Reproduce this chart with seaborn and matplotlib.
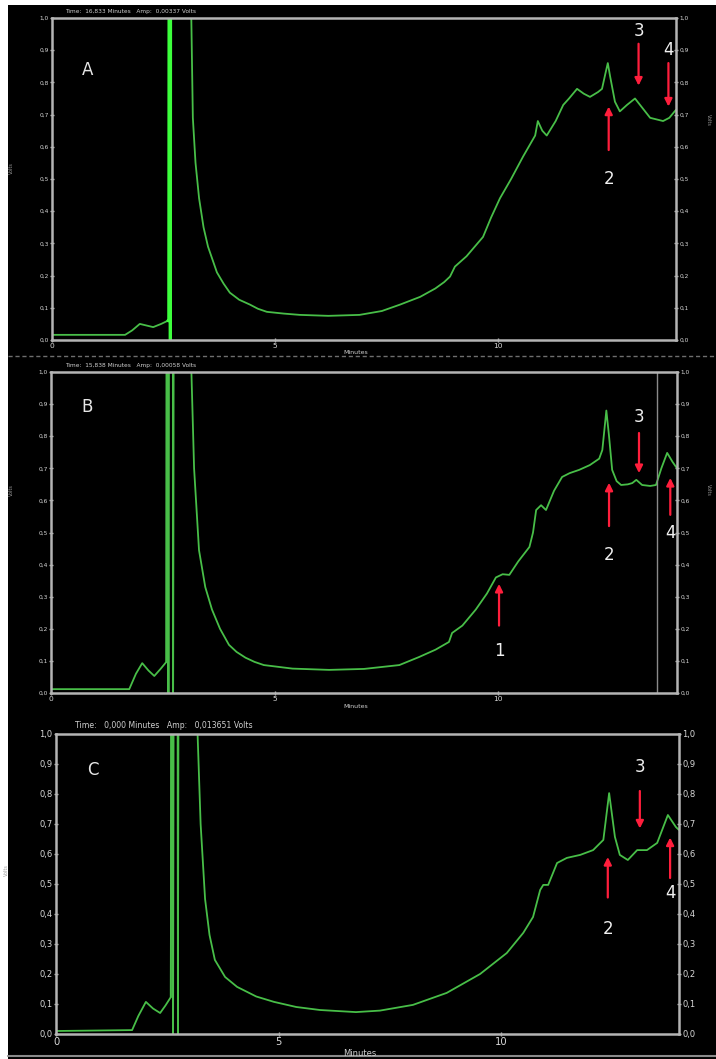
import matplotlib
matplotlib.use("Agg")
import matplotlib.pyplot as plt
import seaborn as sns
import pandas as pd
from matplotlib.patches import Rectangle
from matplotlib.lines import Line2D

# ---------------- data ----------------
time_A = [0, 1.64, 1.8, 1.97, 2.12, 2.27, 2.45, 2.6, 2.62, 2.635, 2.655, 2.67, 3.08, 3.12, 3.16, 3.22, 3.3,
          3.4, 3.5, 3.6, 3.7, 3.85, 3.99, 4.2, 4.44, 4.62, 4.82, 5.2, 5.56, 6.2, 6.9, 7.4, 7.81, 8.26, 8.6,
          8.8, 8.93, 9.04, 9.3, 9.67, 9.85, 10.05, 10.3, 10.57, 10.84, 10.9, 11.0, 11.1, 11.3, 11.47, 11.6,
          11.78, 11.93, 12.07, 12.25, 12.34, 12.42, 12.47, 12.52, 12.63, 12.74, 12.9, 13.08, 13.25, 13.42,
          13.71, 13.85, 14.0]
volts_A = [0.016, 0.016, 0.03, 0.05, 0.045, 0.04, 0.05, 0.06, 0.06, 3.0, -0.2, 3.0, 3.0, 1.05, 0.69, 0.55,
           0.44, 0.35, 0.29, 0.25, 0.21, 0.175, 0.147, 0.125, 0.11, 0.097, 0.0875, 0.082, 0.078, 0.075, 0.078,
           0.09, 0.11, 0.134, 0.16, 0.18, 0.197, 0.228, 0.26, 0.32, 0.38, 0.44, 0.5, 0.57, 0.635, 0.68, 0.65,
           0.635, 0.68, 0.73, 0.75, 0.78, 0.765, 0.755, 0.77, 0.78, 0.83, 0.86, 0.82, 0.74, 0.71, 0.73, 0.75,
           0.72, 0.69, 0.68, 0.69, 0.715]

time_B = [0, 1.75, 1.9, 2.04, 2.18, 2.31, 2.45, 2.58, 2.6, 2.625, 2.645, 2.72, 2.73, 2.75, 3.1, 3.13, 3.2,
          3.31, 3.45, 3.6, 3.78, 3.98, 4.15, 4.35, 4.55, 4.76, 5.4, 6.22, 7.0, 7.79, 8.23, 8.6, 8.9, 8.97, 9.2,
          9.5, 9.75, 9.95, 10.1, 10.25, 10.45, 10.7, 10.78, 10.85, 10.96, 11.07, 11.25, 11.43, 11.6, 11.81,
          12.05, 12.26, 12.33, 12.42, 12.48, 12.55, 12.65, 12.75, 12.9, 13.0, 13.09, 13.22, 13.4, 13.53, 13.65,
          13.78, 13.9, 14.0]
volts_B = [0.012, 0.012, 0.06, 0.093, 0.07, 0.053, 0.075, 0.097, 3.0, -0.2, 3.0, 3.0, -0.2, 3.0, 3.0, 1.05, 0.7,
           0.445, 0.33, 0.26, 0.2, 0.15, 0.128, 0.11, 0.097, 0.087, 0.076, 0.072, 0.075, 0.087, 0.112, 0.135,
           0.159, 0.187, 0.21, 0.26, 0.31, 0.36, 0.37, 0.368, 0.41, 0.455, 0.5, 0.57, 0.585, 0.57, 0.63, 0.673,
           0.685, 0.695, 0.71, 0.73, 0.757, 0.88, 0.8, 0.695, 0.66, 0.648, 0.65, 0.654, 0.664, 0.648, 0.645,
           0.648, 0.7, 0.748, 0.72, 0.7]

time_C = [0, 1.71, 1.85, 2.02, 2.18, 2.34, 2.46, 2.58, 2.61, 2.63, 2.65, 2.73, 2.74, 2.76, 3.14, 3.17, 3.25,
          3.35, 3.45, 3.57, 3.8, 4.07, 4.5, 4.9, 5.4, 5.93, 6.74, 7.28, 8.02, 8.78, 9.53, 10.13, 10.5, 10.72,
          10.88, 10.95, 11.06, 11.26, 11.48, 11.78, 12.07, 12.3, 12.43, 12.56, 12.67, 12.85, 13.06, 13.28,
          13.51, 13.75, 13.93, 14.0]
volts_C = [0.01, 0.013, 0.06, 0.107, 0.085, 0.07, 0.095, 0.123, 3.0, -0.2, 3.0, 3.0, -0.2, 3.0, 3.0, 1.05, 0.7,
           0.45, 0.33, 0.247, 0.19, 0.157, 0.125, 0.107, 0.09, 0.08, 0.073, 0.078, 0.097, 0.137, 0.2, 0.27,
           0.337, 0.39, 0.48, 0.497, 0.497, 0.57, 0.587, 0.597, 0.613, 0.647, 0.803, 0.657, 0.597, 0.58, 0.613,
           0.613, 0.637, 0.73, 0.69, 0.68]

x_ticks = [0, 5, 10]
x_tick_labels = ["0", "5", "10"]
y_ticks = [0.0, 0.1, 0.2, 0.3, 0.4, 0.5, 0.6, 0.7, 0.8, 0.9, 1.0]
y_tick_labels = ["0,0", "0,1", "0,2", "0,3", "0,4", "0,5", "0,6", "0,7", "0,8", "0,9", "1,0"]

panel_letters = ["A", "B", "C"]
headers = ["Time:  16,833 Minutes   Amp:  0,00337 Volts",
           "Time:  15,838 Minutes   Amp:  0,00058 Volts",
           "Time:   0,000 Minutes   Amp:   0,013651 Volts"]

# peak arrows: (label, x, y_tail, y_tip, y_label)
arrows_A = [("3", 13.16, 0.92, 0.79, 0.96), ("4", 13.83, 0.86, 0.725, 0.90), ("2", 12.49, 0.59, 0.725, 0.50)]
arrows_B = [("1", 10.02, 0.21, 0.34, 0.13), ("2", 12.48, 0.52, 0.655, 0.43),
            ("3", 13.15, 0.81, 0.685, 0.86), ("4", 13.85, 0.555, 0.67, 0.50)]
arrows_C = [("3", 13.12, 0.81, 0.685, 0.89), ("2", 12.40, 0.455, 0.59, 0.35), ("4", 13.80, 0.52, 0.655, 0.47)]

cursor_B = 13.56

# ---------------- style ----------------
sns.set_theme(style="dark")
plt.rcParams['font.family'] = ['DejaVu Sans']

W, H = 716, 1059
fig = plt.figure(figsize=(W / 100, H / 100), dpi=100, facecolor="white")
fig.patches.append(Rectangle((8 / W, 0), 1, 1 - 5 / H, transform=fig.transFigure,
                             facecolor="black", edgecolor="none", zorder=-10))

AXCOL = "#b4b4b4"
GREEN = "#48be48"
BRIGHT = "#3cff3c"
RED = "#ff1e3c"


def fx(px):
    return px / W


def fy(py):
    return 1 - py / H


boxes = [(52, 676, 18, 340), (51, 677, 372, 693), (56, 679, 734, 1034)]
datas = [(time_A, volts_A, arrows_A), (time_B, volts_B, arrows_B), (time_C, volts_C, arrows_C)]
tick_fs = [4.2, 4.2, 6.0]
letter_pos = [(0.8, 0.84), (0.8, 0.89), (0.83, 0.88)]

for i, ((l, r, t, b), (tt, vv, arr)) in enumerate(zip(boxes, datas)):
    ax = fig.add_axes([fx(l), fy(b), fx(r - l), (b - t) / H])
    ax.set_facecolor("black")
    df = pd.DataFrame({"Minutes": tt, "Volts": vv})
    sns.lineplot(data=df, x="Minutes", y="Volts", ax=ax, color=GREEN, lw=1.3,
                 sort=False, estimator=None)
    spike = df[(df["Minutes"] > 2.5) & (df["Minutes"] < 2.8)]
    sns.lineplot(data=spike, x="Minutes", y="Volts", ax=ax, color=BRIGHT if i == 0 else GREEN,
                 lw=2.2 if i == 0 else 1.3, sort=False, estimator=None)
    if i == 1:
        ax.axvline(cursor_B, color="#8a8a8a", lw=1.0)
    ax.set_xlim(0, 14)
    ax.set_ylim(0, 1)
    ax.set_xticks(x_ticks)
    ax.set_xticklabels(x_tick_labels)
    ax.set_yticks(y_ticks)
    ax.set_yticklabels(y_tick_labels)
    ax.grid(False)
    ax.set_xlabel("")
    ax.set_ylabel("")
    for s in ax.spines.values():
        s.set_visible(True)
        s.set_color(AXCOL)
        s.set_linewidth(1.8)
    ax.tick_params(axis="y", which="both", left=True, right=True, labelleft=True, labelright=True,
                   colors=AXCOL, labelcolor="#d8d8d8", labelsize=tick_fs[i], length=3, width=1,
                   direction="inout", pad=1)
    ax.tick_params(axis="x", bottom=True, colors=AXCOL, labelcolor="#d8d8d8",
                   labelsize=tick_fs[i] + 1.2, length=3, width=1, direction="inout", pad=1)
    ax.text(letter_pos[i][0], letter_pos[i][1], panel_letters[i], color="#e6e6e6",
            fontsize=12, ha="center", va="center")
    for lab, x, y0, y1, yl in arr:
        ax.annotate("", xy=(x, y1), xytext=(x, y0),
                    arrowprops=dict(arrowstyle="-|>", color=RED, lw=1.6, mutation_scale=11,
                                    shrinkA=0, shrinkB=0))
        ax.text(x, yl, lab, color="#f0f0f0", fontsize=12, ha="center", va="center")
    # header line
    hx = 65 if i < 2 else 75
    hy = t - 6 if i < 2 else t - 9
    fig.text(fx(hx), fy(hy), headers[i], color="#cfcfcf", fontsize=4.2 if i < 2 else 5.6,
             ha="left", va="center")
    # x label
    fig.text(fx((l + r) / 2 - 8), fy(b + (13 if i < 2 else 19)), "Minutes", color="#cfcfcf",
             fontsize=4.5 if i < 2 else 6.0, ha="center", va="center")
    # side labels
    if i < 2:
        fig.text(fx(708), fy(t + 102 if i == 0 else t + 118), "Volts", color="#9a9a9a", fontsize=3.5,
                 rotation=270, ha="center", va="center")
        fig.text(fx(11), fy(t + 150 if i == 0 else t + 118), "Volts", color="#9a9a9a", fontsize=3.5,
                 rotation=90, ha="center", va="center")
    else:
        fig.text(fx(6), fy(870), "Volts", color="#9a9a9a", fontsize=3.5,
                 rotation=90, ha="center", va="center")

# separators
fig.lines.append(Line2D([fx(8), 1], [fy(356), fy(356)], transform=fig.transFigure,
                        color="#6e6e6e", lw=1.0, ls=(0, (3, 2))))
fig.lines.append(Line2D([fx(8), 1], [fy(1056), fy(1056)], transform=fig.transFigure,
                        color="#8a8a8a", lw=1.5))

fig.savefig("out.png", dpi=100, facecolor=fig.get_facecolor())
